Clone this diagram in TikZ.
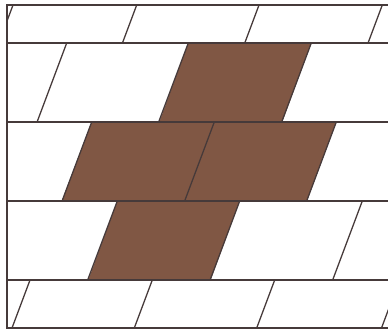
\documentclass[tikz,border=0pt]{standalone}
\usepackage{xcolor}
\usepackage{tikz}
\definecolor{tilebrown}{RGB}{128,87,68}
\definecolor{jointgray}{RGB}{70,58,58}

\begin{document}
\begin{tikzpicture}[
  x=0.03cm, y=-0.03cm,
  tile/.style={fill=tilebrown},
  joint/.style={draw=jointgray, line width=1.1pt},
  course/.style={draw=jointgray, line width=1.2pt}
]
  \useasboundingbox (0,0) rectangle (388,329);

  % brown tiles
  \fill[tile] (188.3,43) -- (311.3,43) -- (282.3,122) -- (159.3,122) -- cycle;
  \fill[tile] (91.7,122) -- (336.3,122) -- (307,201) -- (61.7,201) -- cycle;
  \fill[tile] (117.3,201) -- (239.7,201) -- (210.7,280) -- (88.3,280) -- cycle;

  % slanted joints, one course at a time
  \begin{scope}
    \clip (7,5) rectangle (388,328);
    \foreach \x in {13,136.7,259,382.3}
      \draw[joint] (\x,5) -- ({\x-0.375*38},43);
    \foreach \x in {66.7,188.3,311.3}
      \draw[joint] (\x,43) -- ({\x-0.375*79},122);
    \foreach \x in {91.7,214.3,336.3}
      \draw[joint] (\x,122) -- ({\x-0.375*79},201);
    \foreach \x in {117.3,239.7,362.3}
      \draw[joint] (\x,201) -- ({\x-0.375*79},280);
    \foreach \x in {30,152.3,274.7,399.5}
      \draw[joint] (\x,280) -- ({\x-0.375*48},328);
  \end{scope}

  % horizontal courses
  \foreach \y in {5,43,122,201,280,327.8}
    \draw[course] (7,\y) -- (388,\y);

  % left edge
  \draw[course, line width=1.8pt] (7,4.3) -- (7,328.5);
\end{tikzpicture}
\end{document}
